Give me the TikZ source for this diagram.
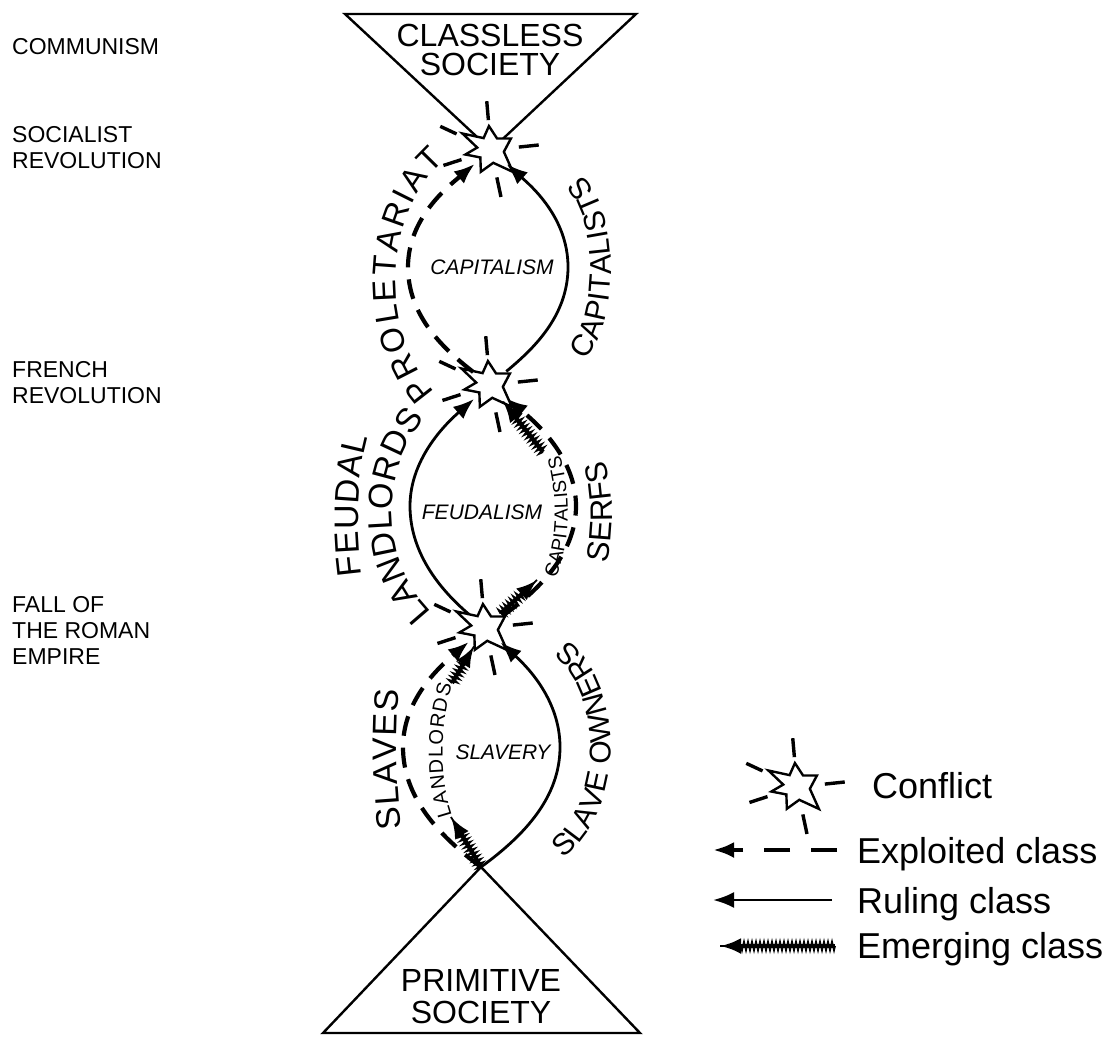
\documentclass[tikz,border=0pt]{standalone}
\usepackage{fontspec}
\setmainfont{Liberation Sans}
\usetikzlibrary{arrows.meta,decorations.text,decorations.pathmorphing}

\tikzset{
  ruling/.style={line width=2.8pt,-{Latex[length=21pt,width=16pt]}},
  exploited/.style={line width=4.2pt,dash pattern=on 20pt off 12pt,
    -{Latex[length=21pt,width=16pt]}},
  emerging/.style={line width=4.2pt,-{Latex[length=21pt,width=16pt]},
    postaction={decorate,draw,-,line width=1.8pt,
      decoration={zigzag,amplitude=4.2pt,segment length=4pt,
        post length=20pt}}},
  conflictspot/.style={circle,minimum size=42pt,inner sep=0pt},
  event/.style={anchor=west,align=left,inner sep=0pt,
    font=\fontsize{23}{26}\selectfont},
  society/.style={align=center,inner sep=0pt},
  era/.style={inner sep=0pt,font=\fontsize{21}{21}\selectfont\itshape},
  legendtext/.style={anchor=base west,inner sep=0pt,
    font=\fontsize{36}{36}\selectfont},
  classname/.style 2 args={decorate,decoration={text along path,
    text align={fit to path},text={|\fontsize{#1}{#1}\selectfont|#2}}},
}

\newcommand{\burst}[1]{%
  \draw[line width=2.4pt,fill=white,line join=miter]
    (#1.center) +(150:33pt) -- +(122:14pt) -- +(95:24pt) -- +(62:13pt)
    -- +(30:23pt) -- +(-8:13pt) -- +(-45:31pt) -- +(-80:13pt)
    -- +(-115:24pt) -- +(-145:13pt) -- +(190:26pt) -- +(170:14pt) -- cycle;
  \foreach \ang/\ri/\ro in {95/30/49,155/38/56,198/31/50,6/28/48,282/28/48}
    \draw[line width=3.4pt] (#1.center) +(\ang:\ri pt) -- +(\ang:\ro pt);
}

\begin{document}
\begin{tikzpicture}[x=1pt,y=-1pt]
\useasboundingbox (0,0) rectangle (1107,1036);

\coordinate (clasl) at (345,14);
\coordinate (clasr) at (636,14);
\coordinate (prim) at (481,867);
\coordinate (priml) at (323,1033);
\coordinate (primr) at (640,1033);

\node[conflictspot] (socrev) at (491,150) {};
\node[conflictspot] (frenchrev) at (490,385) {};
\node[conflictspot] (romefall) at (485,628) {};
\node[conflictspot] (legstar) at (797,787) {};

\draw[line width=2.4pt]
  (clasl) -- (clasr) -- (socrev.center) -- cycle;
\draw[line width=2.4pt]
  (priml) -- (prim) -- (primr) -- cycle;

\burst{socrev}
\burst{frenchrev}
\burst{romefall}
\burst{legstar}

\node[society,font=\fontsize{32}{29}\selectfont]
  (classless) at (490,50) {CLASSLESS\\SOCIETY};
\node[society,font=\fontsize{32}{32}\selectfont]
  (primitive) at (481,997) {PRIMITIVE\\SOCIETY};

\node[event] (communism) at (12,47) {COMMUNISM};
\node[event] (socialist) at (12,148) {SOCIALIST\\REVOLUTION};
\node[event] (french) at (12,383) {FRENCH\\REVOLUTION};
\node[event] (roman) at (12,630) {FALL OF\\THE ROMAN\\EMPIRE};

\node[era] (capitalism) at (492,267) {CAPITALISM};
\node[era] (feudalism) at (482,512) {FEUDALISM};
\node[era] (slavery) at (503,752) {SLAVERY};

% capitalism
\draw[exploited]
  (frenchrev) .. controls (445,350) and (408,317) .. (408,267)
  .. controls (408,217) and (450,185) .. (socrev);
\draw[ruling]
  (frenchrev) .. controls (532,350) and (568,317) .. (568,267)
  .. controls (568,217) and (530,185) .. (socrev);
\path[classname={33}{PROLETARIAT}]
  (435,392) .. controls (381,335) and (381,215) .. (445,160);
\path[classname={30}{CAPITALISTS}]
  (585,360) .. controls (620,320) and (620,215) .. (583,175);

% feudalism
\draw[ruling]
  (romefall) .. controls (444,593) and (410,556) .. (410,506)
  .. controls (410,456) and (450,420) .. (frenchrev);
\draw[exploited]
  (romefall) .. controls (535,593) and (576,556) .. (576,506)
  .. controls (576,456) and (533,420) .. (frenchrev);
\coordinate (caplow) at (537,580);
\coordinate (caphigh) at (543,452);
\draw[emerging] (romefall) -- (caplow);
\draw[emerging] (caphigh) -- (frenchrev);
\path[classname={34}{LANDLORDS}]
  (432,612) .. controls (380,560) and (380,470) .. (425,418);
\path[classname={34}{FEUDAL}]
  (362,575) .. controls (356,530) and (356,480) .. (368,437);
\path[classname={31}{SERFS}]
  (607,563) .. controls (614,530) and (614,490) .. (605,460);
\path[classname={19}{CAPITALISTS}]
  (556,578) .. controls (571,540) and (571,495) .. (560,455);

% slavery
\draw[exploited]
  (prim) .. controls (438,835) and (403,797) .. (403,747)
  .. controls (403,697) and (444,663) .. (romefall);
\draw[ruling]
  (prim) .. controls (525,835) and (560,797) .. (560,747)
  .. controls (560,697) and (523,663) .. (romefall);
\coordinate (landlow) at (451,817);
\coordinate (landhigh) at (452,683);
\draw[emerging] (prim) -- (landlow);
\draw[emerging] (landhigh) -- (romefall);
\path[classname={34}{SLAVES}]
  (402,828) .. controls (396,790) and (395,730) .. (399,690);
\path[classname={20}{LANDLORDS}]
  (452,815) .. controls (440,780) and (439,730) .. (452,685);
\path[classname={30}{SLAVE OWNERS}]
  (563,858) .. controls (626,810) and (626,690) .. (568,640);

% legend
\coordinate (legexpa) at (837,850);
\coordinate (legexpb) at (713,850);
\coordinate (legrula) at (832,900);
\coordinate (legrulb) at (713,900);
\coordinate (legemga) at (835,946);
\coordinate (legemgb) at (720,946);
\draw[exploited,dash pattern=on 26pt off 21pt] (legexpa) -- (legexpb);
\draw[ruling] (legrula) -- (legrulb);
\draw[emerging] (legemga) -- (legemgb);
\node[legendtext] (conflictlbl) at (872,798) {Conflict};
\node[legendtext] (exploitedlbl) at (857,863) {Exploited class};
\node[legendtext] (rulinglbl) at (857,913) {Ruling class};
\node[legendtext] (emerginglbl) at (857,958) {Emerging class};

\end{tikzpicture}
\end{document}
